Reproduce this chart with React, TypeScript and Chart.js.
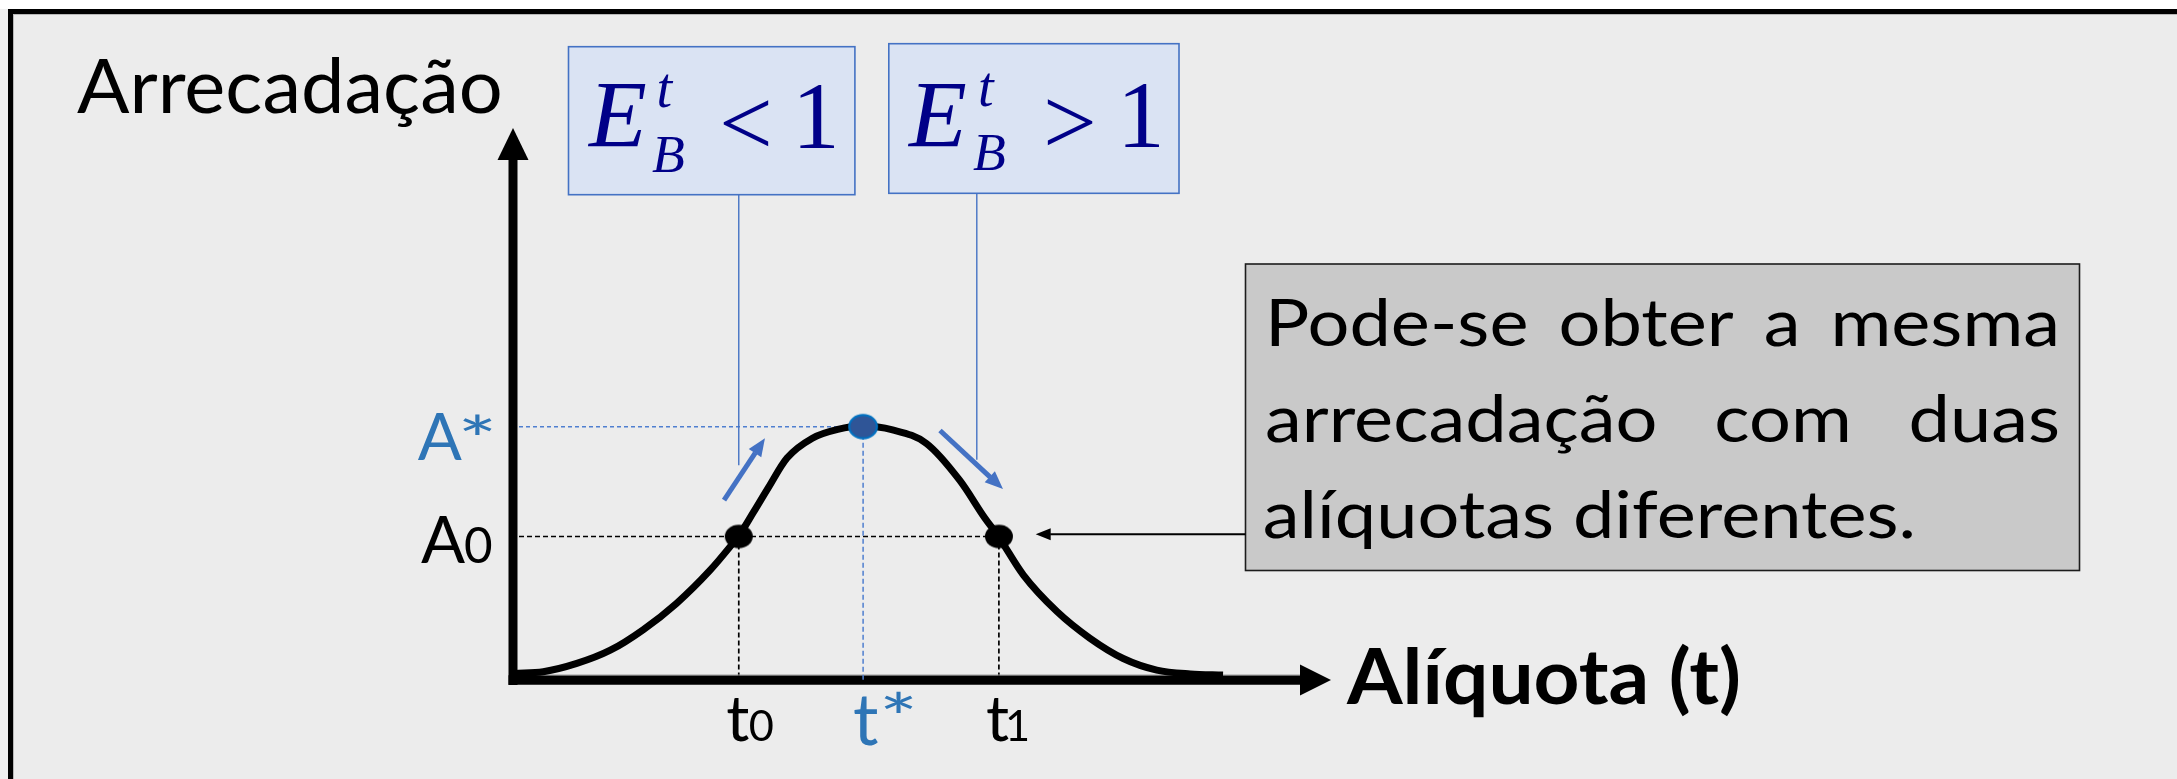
import React, { useEffect, useRef } from 'react';
import { Chart, registerables } from 'chart.js';

Chart.register(...registerables);

// ---------------- data (x = alíquota on a 0-100 scale, y = arrecadação on a 0-100 scale)
const curveT = [0.2, 3.7, 7.8, 11.9, 15.9, 20.0, 24.1, 26.9, 27.6, 29.4, 31.2, 33.5, 36.6, 39.7, 42.8, 46.4, 50.5, 54.6, 57.7, 59.3, 62.4, 66.5, 70.5, 74.6, 78.7, 82.8, 86.8];
const curveA = [1.2, 1.5, 3.0, 5.4, 9.1, 13.9, 19.9, 24.8, 26.1, 30.4, 34.8, 40.2, 43.8, 45.4, 46.0, 45.3, 42.9, 36.2, 29.3, 26.1, 19.0, 12.4, 7.6, 3.9, 1.8, 1.1, 0.9];

// key points: t0, t*, t1
const keyT = [27.6, 42.8, 59.4];
const keyA = [26.0, 45.9, 26.0];
const tLabelMain = ['t', 't', 't'];
const tLabelSub = ['0', '*', '1'];
const aLabelMain = ['A', 'A'];
const aLabelSub = ['*', '0'];
const aLabelValue = [45.9, 26.0];

// blue direction arrows [tailT, tailA, tipT, tipA]
const upArrow = [25.8, 32.6, 30.8, 43.8];
const downArrow = [52.2, 45.2, 59.9, 34.6];

// connectors from elasticity boxes down into the plot (t, lower A)
const connectorT = [27.6, 56.7];
const connectorA = [38.9, 39.9];

// pointer from note box to t1
const pointerTip = [63.9, 26.4];

const yTitle = 'Arrecadação';
const xTitle = 'Alíquota (t)';
const eqSigns = ['<', '>'];
const noteLines = ['Pode-se obter a mesma', 'arrecadação com duas', 'alíquotas diferentes.'];

// ---------------- layout (pixels)
const W = 2177;
const H = 779;
const AREA = { left: 513, right: 1331, top: 128, bottom: 680 };
const EQ_BOXES = [
  { x: 568.5, y: 46.7, w: 286.4, h: 148, eLeft: 587, eBase: 147.3, tLeft: 658.5, tBase: 107, bLeft: 652, bBase: 171.7, sLeft: 723, sBottom: 147, oneLeft: 800, oneBase: 148 },
  { x: 888.8, y: 43.7, w: 290.2, h: 149.6, eLeft: 907, eBase: 146.7, tLeft: 980, tBase: 105.5, bLeft: 973, bBase: 170.3, sLeft: 1047, sBottom: 146.3, oneLeft: 1125, oneBase: 146.7 },
];
const NOTE = { x: 1245.5, y: 264, w: 834, h: 306.5, left: 1265, right: 2060, lastRight: 1912, bases: [345.9, 441.9, 537.9], cap: 48 };

const C = {
  bg: '#ececec',
  eqFill: '#dae3f3',
  eqStroke: '#4472c4',
  eqText: '#000088',
  blueLabel: '#2e75b6',
  arrow: '#4472c4',
  dashBlue: '#4f7fd0',
  noteFill: '#c9c9c9',
  noteStroke: '#1c1c1c',
};

const SANS = 'Lato, "Open Sans", sans-serif';
const SERIF = '"Liberation Serif", "DejaVu Serif", serif';

type Ctx = CanvasRenderingContext2D;

function fontBy(ctx: Ctx, spec: (px: number) => string, ref: string, h: number) {
  ctx.font = spec(100);
  const m = ctx.measureText(ref);
  const hh = m.actualBoundingBoxAscent + m.actualBoundingBoxDescent;
  return spec((100 * h) / hh);
}

function capFont(ctx: Ctx, weight: number, style: string, family: string, cap: number) {
  return fontBy(ctx, (px) => `${style} ${weight} ${px}px ${family}`, 'H', cap);
}

function drawLB(ctx: Ctx, text: string, font: string, left: number, base: number, color: string, sx = 1) {
  ctx.font = font;
  ctx.fillStyle = color;
  ctx.textAlign = 'left';
  ctx.textBaseline = 'alphabetic';
  const m = ctx.measureText(text);
  ctx.save();
  ctx.translate(left, base);
  ctx.scale(sx, 1);
  ctx.fillText(text, m.actualBoundingBoxLeft, 0);
  ctx.restore();
}

// draw a glyph stretched into a given box (left, top, width, height)
function drawInBox(ctx: Ctx, text: string, family: string, left: number, top: number, w: number, h: number, color: string) {
  ctx.font = `400 100px ${family}`;
  ctx.fillStyle = color;
  ctx.textAlign = 'left';
  ctx.textBaseline = 'alphabetic';
  const m = ctx.measureText(text);
  const bw = m.actualBoundingBoxLeft + m.actualBoundingBoxRight;
  const bh = m.actualBoundingBoxAscent + m.actualBoundingBoxDescent;
  ctx.save();
  ctx.translate(left, top);
  ctx.scale(w / bw, h / bh);
  ctx.fillText(text, m.actualBoundingBoxLeft, m.actualBoundingBoxAscent);
  ctx.restore();
}

function drawLBottom(ctx: Ctx, text: string, font: string, left: number, bottom: number, color: string) {
  ctx.font = font;
  ctx.fillStyle = color;
  ctx.textAlign = 'left';
  ctx.textBaseline = 'alphabetic';
  const m = ctx.measureText(text);
  ctx.fillText(text, left + m.actualBoundingBoxLeft, bottom - m.actualBoundingBoxDescent);
}

function drawFit(ctx: Ctx, text: string, font: string, left: number, right: number, base: number, color: string) {
  ctx.font = font;
  const m = ctx.measureText(text);
  const w = m.actualBoundingBoxLeft + m.actualBoundingBoxRight;
  drawLB(ctx, text, font, left, base, color, (right - left) / w);
}

function arrow(ctx: Ctx, x1: number, y1: number, x2: number, y2: number, lw: number, len: number, half: number, color: string) {
  const a = Math.atan2(y2 - y1, x2 - x1);
  const c = Math.cos(a);
  const s = Math.sin(a);
  const bx = x2 - len * c;
  const by = y2 - len * s;
  ctx.save();
  ctx.strokeStyle = color;
  ctx.fillStyle = color;
  ctx.lineWidth = lw;
  ctx.lineCap = 'butt';
  ctx.setLineDash([]);
  ctx.beginPath();
  ctx.moveTo(x1, y1);
  ctx.lineTo(bx + 0.5 * c, by + 0.5 * s);
  ctx.stroke();
  ctx.beginPath();
  ctx.moveTo(x2, y2);
  ctx.lineTo(bx + half * s, by - half * c);
  ctx.lineTo(bx - half * s, by + half * c);
  ctx.closePath();
  ctx.fill();
  ctx.restore();
}

function dashed(ctx: Ctx, x1: number, y1: number, x2: number, y2: number, color: string, dash: number[], lw: number) {
  ctx.save();
  ctx.strokeStyle = color;
  ctx.lineWidth = lw;
  ctx.setLineDash(dash);
  ctx.beginPath();
  ctx.moveTo(x1, y1);
  ctx.lineTo(x2, y2);
  ctx.stroke();
  ctx.restore();
}

function makeDot(rx: number, ry: number, fill: string, stroke: string | null, lw: number) {
  const cv = document.createElement('canvas');
  cv.width = Math.ceil(rx * 2 + 4);
  cv.height = Math.ceil(ry * 2 + 4);
  const c = cv.getContext('2d')!;
  c.beginPath();
  c.ellipse(cv.width / 2, cv.height / 2, rx, ry, 0, 0, Math.PI * 2);
  c.fillStyle = fill;
  c.fill();
  if (stroke) {
    c.strokeStyle = stroke;
    c.lineWidth = lw;
    c.stroke();
  }
  return cv;
}

const diagramPlugin = {
  id: 'lafferDiagram',
  beforeDraw(chart: any) {
    const ctx: Ctx = chart.ctx;
    ctx.save();
    ctx.fillStyle = C.bg;
    ctx.fillRect(0, 0, W, H);
    ctx.fillStyle = '#ffffff';
    ctx.fillRect(0, 0, W, 9);
    ctx.fillStyle = '#efefef';
    ctx.fillRect(0, 9, 8, H);
    ctx.fillStyle = '#000000';
    ctx.fillRect(8, 9, W, 5);
    ctx.fillRect(8, 9, 5, H);
    ctx.fillStyle = '#b8b8b8';
    ctx.fillRect(13, 14, W, 1);
    ctx.fillRect(13, 14, 1, H);
    ctx.restore();
  },
  beforeDatasetsDraw(chart: any) {
    const ctx: Ctx = chart.ctx;
    const xs = chart.scales.x;
    const ys = chart.scales.y;
    const px = (v: number) => xs.getPixelForValue(v);
    const py = (v: number) => ys.getPixelForValue(v);
    const x0 = px(0);
    const y0 = py(0);

    // horizontal guides
    dashed(ctx, x0 + 6, py(keyA[1]), px(keyT[1]) - 8, py(keyA[1]), C.dashBlue, [4, 3], 1.5);
    dashed(ctx, x0 + 6, py(keyA[0]), px(keyT[2]), py(keyA[0]), '#000', [5, 3], 1.7);
    // vertical guides
    dashed(ctx, px(keyT[0]), py(keyA[0]), px(keyT[0]), y0 - 4, '#000', [5, 3], 1.7);
    dashed(ctx, px(keyT[2]), py(keyA[2]), px(keyT[2]), y0 - 4, '#000', [5, 3], 1.7);

    // connectors from equation boxes
    ctx.save();
    ctx.strokeStyle = C.eqStroke;
    ctx.lineWidth = 1.4;
    EQ_BOXES.forEach((b, i) => {
      ctx.beginPath();
      ctx.moveTo(px(connectorT[i]), b.y + b.h);
      ctx.lineTo(px(connectorT[i]), py(connectorA[i]));
      ctx.stroke();
    });
    ctx.restore();

    // axes with arrowheads
    arrow(ctx, x0, y0 + 5, x0, py(100), 9, 32, 15.5, '#000');
    arrow(ctx, x0 - 4.5, y0, px(100), y0, 9.5, 31, 15.5, '#000');
    ctx.save();
    ctx.fillStyle = '#9a9a9a';
    ctx.fillRect(x0 + 4.5, y0 - 5.5, px(100) - 31 - x0 - 4.5, 1);
    ctx.restore();

    // t* vertical guide drawn over the axis
    dashed(ctx, px(keyT[1]), py(keyA[1]), px(keyT[1]), y0 + 1, C.dashBlue, [5, 3], 1.5);
  },
  afterDatasetsDraw(chart: any) {
    const ctx: Ctx = chart.ctx;
    const xs = chart.scales.x;
    const ys = chart.scales.y;
    const px = (v: number) => xs.getPixelForValue(v);
    const py = (v: number) => ys.getPixelForValue(v);
    const y0 = py(0);

    // blue direction arrows
    arrow(ctx, px(upArrow[0]), py(upArrow[1]), px(upArrow[2]), py(upArrow[3]), 5, 18, 7.5, C.arrow);
    arrow(ctx, px(downArrow[0]), py(downArrow[1]), px(downArrow[2]), py(downArrow[3]), 5, 18, 7.5, C.arrow);

    // y-axis title
    drawFit(ctx, yTitle, capFont(ctx, 400, 'normal', SANS, 55), 77, 500, 113.3, '#000');
    // x-axis title
    drawFit(ctx, xTitle, capFont(ctx, 700, 'normal', SANS, 55.4), 1346, 1739, 704, '#000');

    // revenue labels (A*, A0)
    const aFont = capFont(ctx, 400, 'normal', SANS, 47.6);
    const subFont = fontBy(ctx, (p) => `400 ${p}px ${SANS}`, '0', 37);
    aLabelMain.forEach((m, i) => {
      const star = aLabelSub[i] === '*';
      const base = py(aLabelValue[i]) + (star ? 33.5 : 27);
      const col = star ? C.blueLabel : '#000';
      const left = star ? 417.7 : 421;
      drawLB(ctx, m, aFont, left, base, col);
      if (star) drawInBox(ctx, '*', SANS, 463, base - 46.3, 29, 21, col);
      else drawLB(ctx, aLabelSub[i], subFont, 465, base, col);
    });

    // tax-rate labels (t0, t*, t1)
    const tFont = fontBy(ctx, (p) => `400 ${p}px ${SANS}`, 't', 44.5);
    const tBig = fontBy(ctx, (p) => `400 ${p}px ${SANS}`, 't', 49);
    const tSub = fontBy(ctx, (p) => `400 ${p}px ${SANS}`, '0', 32.5);
    tLabelMain.forEach((m, i) => {
      const cx = px(keyT[i]);
      if (tLabelSub[i] === '*') {
        drawLB(ctx, m, tBig, cx - 9, y0 + 65, C.blueLabel);
        drawInBox(ctx, '*', SANS, cx + 21.5, y0 + 11.7, 28.5, 21.5, C.blueLabel);
      } else {
        const off = i === 0 ? [-11.5, 11] : [-12, 9];
        drawLB(ctx, m, tFont, cx + off[0], y0 + 60.7, '#000');
        drawLB(ctx, tLabelSub[i], tSub, cx + off[1], y0 + 60.7, '#000');
      }
    });

    // elasticity boxes
    const eFont = fontBy(ctx, (p) => `italic 400 ${p}px ${SERIF}`, 'E', 62.5);
    const supFont = fontBy(ctx, (p) => `italic 400 ${p}px ${SERIF}`, 't', 32);
    const bFont = fontBy(ctx, (p) => `italic 400 ${p}px ${SERIF}`, 'B', 35.5);
    const opFont = fontBy(ctx, (p) => `400 ${p}px ${SERIF}`, '1', 63);
    EQ_BOXES.forEach((b, i) => {
      ctx.save();
      ctx.fillStyle = C.eqFill;
      ctx.fillRect(b.x, b.y, b.w, b.h);
      ctx.strokeStyle = C.eqStroke;
      ctx.lineWidth = 1.6;
      ctx.strokeRect(b.x, b.y, b.w, b.h);
      ctx.restore();
      drawLB(ctx, 'E', eFont, b.eLeft, b.eBase, C.eqText);
      drawLB(ctx, 't', supFont, b.tLeft, b.tBase, C.eqText);
      drawLB(ctx, 'B', bFont, b.bLeft, b.bBase, C.eqText);
      drawLBottom(ctx, eqSigns[i], opFont, b.sLeft, b.sBottom, C.eqText);
      drawLB(ctx, '1', opFont, b.oneLeft, b.oneBase, C.eqText);
    });

    // note box
    ctx.save();
    ctx.fillStyle = C.noteFill;
    ctx.fillRect(NOTE.x, NOTE.y, NOTE.w, NOTE.h);
    ctx.strokeStyle = C.noteStroke;
    ctx.lineWidth = 1.6;
    ctx.strokeRect(NOTE.x, NOTE.y, NOTE.w, NOTE.h);
    ctx.restore();

    // pointer from note box to t1
    arrow(ctx, NOTE.x, py(pointerTip[1]), px(pointerTip[0]), py(pointerTip[1]), 1.8, 15, 6, '#000');

    const nFont = capFont(ctx, 400, 'normal', SANS, NOTE.cap);
    ctx.font = nFont;
    const lm = ctx.measureText(noteLines[2]);
    const sx = (NOTE.lastRight - NOTE.left) / (lm.actualBoundingBoxLeft + lm.actualBoundingBoxRight);
    noteLines.forEach((line, li) => {
      const base = NOTE.bases[li];
      if (li === noteLines.length - 1) {
        drawLB(ctx, line, nFont, NOTE.left, base, '#000', sx);
        return;
      }
      const words = line.split(' ');
      ctx.font = nFont;
      const widths = words.map((w) => ctx.measureText(w).width * sx);
      const total = widths.reduce((a, b) => a + b, 0);
      const gap = (NOTE.right - NOTE.left - total) / (words.length - 1);
      let x = NOTE.left;
      words.forEach((w, wi) => {
        ctx.save();
        ctx.font = nFont;
        ctx.fillStyle = '#000';
        ctx.textAlign = 'left';
        ctx.textBaseline = 'alphabetic';
        ctx.translate(x, base);
        ctx.scale(sx, 1);
        ctx.fillText(w, 0, 0);
        ctx.restore();
        x += widths[wi] + gap;
      });
    });
  },
};

export default function App() {
  const ref = useRef<HTMLCanvasElement | null>(null);

  useEffect(() => {
    document.body.style.margin = '0';
    const canvas = ref.current;
    if (!canvas) return;
    const blackDot = makeDot(14, 11.7, '#000000', null, 0);
    const blueDot = makeDot(13.8, 11.7, '#2f5597', '#0070c0', 2.2);
    const chart = new Chart(canvas, {
      type: 'scatter',
      data: {
        datasets: [
          {
            label: 'pontos',
            data: keyT.map((t, i) => ({ x: t, y: keyA[i] })),
            pointStyle: [blackDot, blueDot, blackDot] as any,
            pointRadius: 14,
            showLine: false,
            order: 0,
          } as any,
          {
            label: 'curva',
            data: curveT.map((t, i) => ({ x: t, y: curveA[i] })),
            showLine: true,
            borderColor: '#000000',
            borderWidth: 7,
            pointRadius: 0,
            cubicInterpolationMode: 'monotone',
            borderJoinStyle: 'round',
            fill: false,
            clip: false,
            order: 1,
          } as any,
        ],
      },
      options: {
        animation: false,
        responsive: false,
        devicePixelRatio: 1,
        events: [],
        layout: {
          padding: { left: AREA.left, right: W - AREA.right, top: AREA.top, bottom: H - AREA.bottom },
        },
        scales: {
          x: { type: 'linear', min: 0, max: 100, display: false },
          y: { type: 'linear', min: 0, max: 100, display: false },
        },
        plugins: { legend: { display: false }, tooltip: { enabled: false } },
      },
      plugins: [diagramPlugin],
    });
    return () => chart.destroy();
  }, []);

  return (
    <canvas
      ref={ref}
      width={W}
      height={H}
      style={{ position: 'fixed', left: 0, top: 0, width: W, height: H, display: 'block' }}
    />
  );
}
